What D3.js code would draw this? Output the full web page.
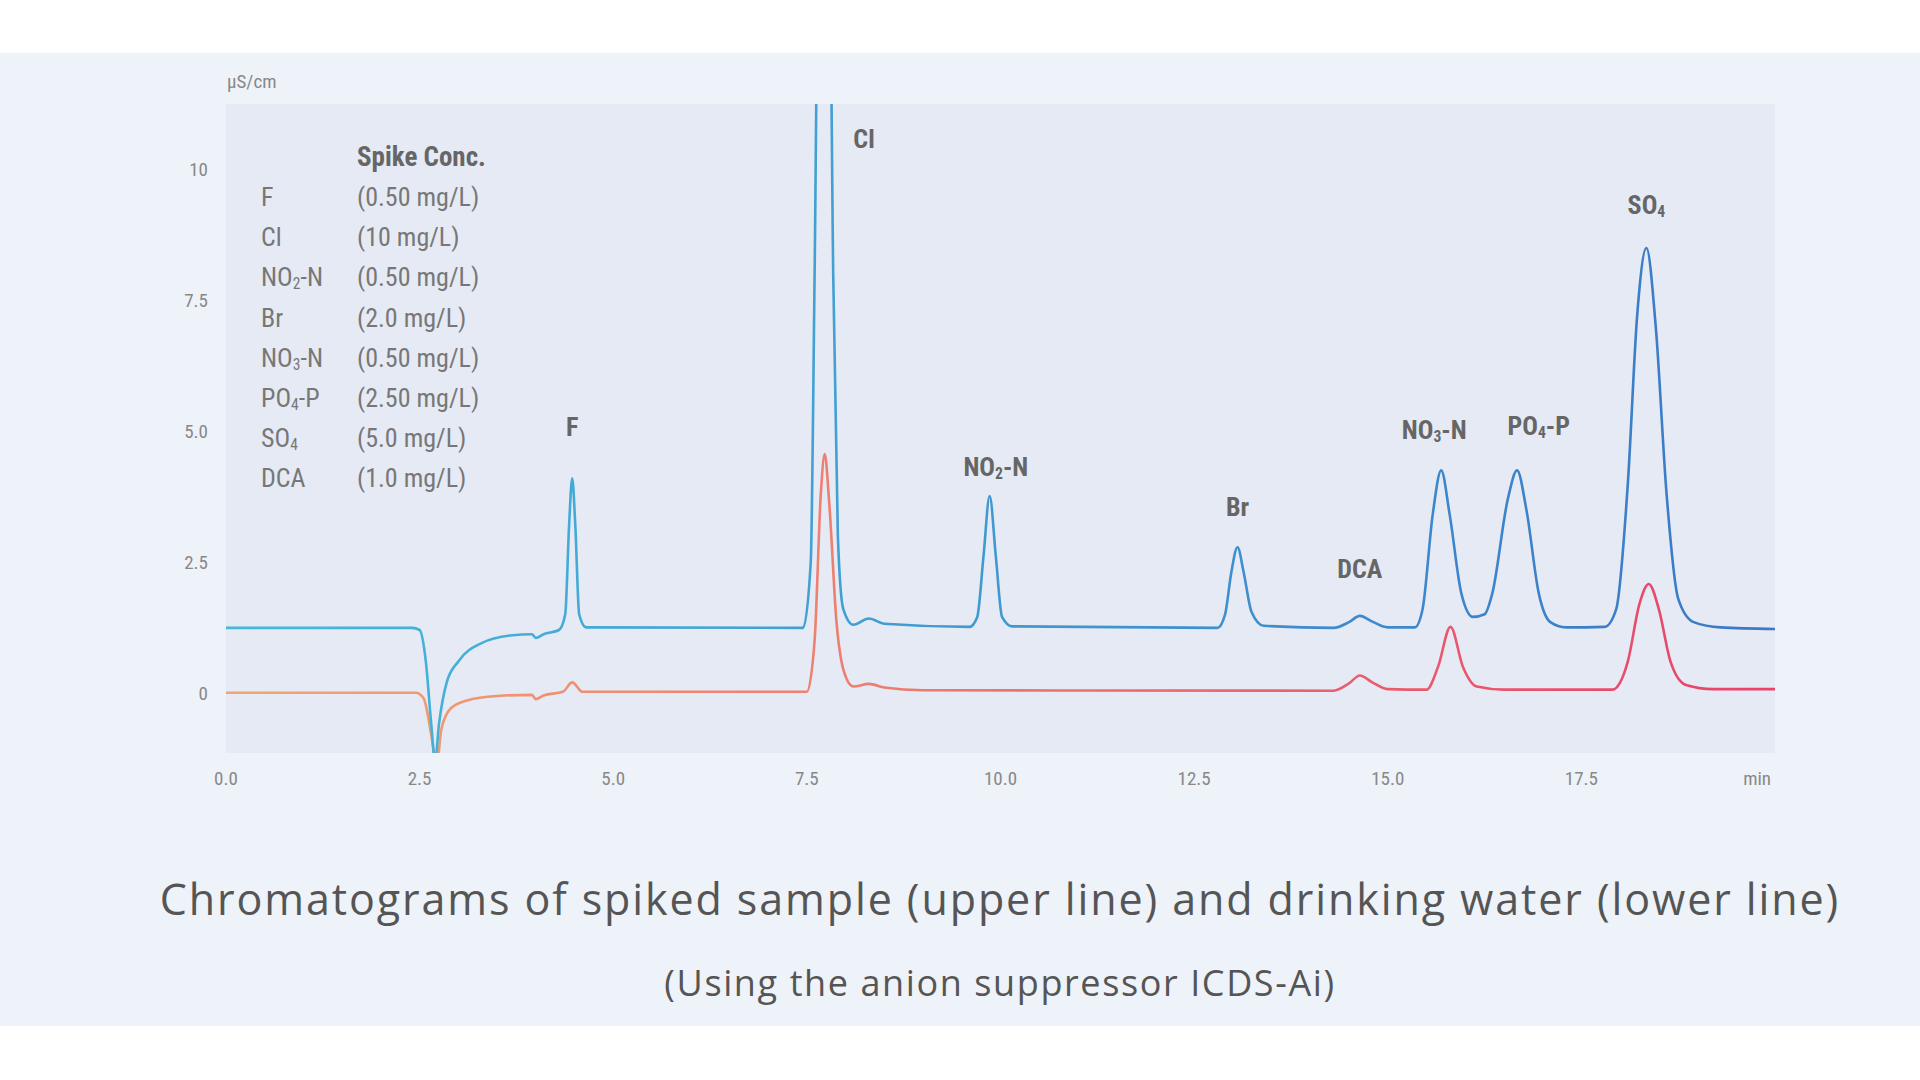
<!DOCTYPE html>
<html>
<head>
<meta charset="utf-8">
<script src="https://cdn.jsdelivr.net/npm/d3@7"></script>
<style>
  body { margin: 0; background: #fff; }
  svg { display: block; }
</style>
</head>
<body>
<svg id="chart" width="1920" height="1080"></svg>
<script>
// retention time (min), conductivity (µS/cm)
const spiked = [
  [0, 1.24], [2.4, 1.24], [2.5, 1.2], [2.58, 0.6], [2.65, -0.6], [2.7, -1.3], [2.75, -0.6],
  [2.85, 0.2], [3.0, 0.6], [3.3, 0.95], [3.7, 1.1], [3.95, 1.12], [4.0, 1.05], [4.1, 1.12],
  [4.3, 1.2], [4.38, 1.5], [4.43, 3.2], [4.47, 4.1], [4.51, 3.2], [4.56, 1.5], [4.65, 1.25],
  [7.45, 1.24], [7.55, 2.5], [7.6, 8], [7.64, 13], [7.8, 13], [7.84, 8], [7.9, 3], [7.97, 1.6],
  [8.1, 1.3], [8.3, 1.42], [8.5, 1.32], [9.6, 1.26], [9.7, 1.45], [9.78, 2.6], [9.86, 3.76],
  [9.94, 2.6], [10.02, 1.45], [10.15, 1.27], [12.8, 1.24], [12.9, 1.5], [12.98, 2.3],
  [13.06, 2.78], [13.14, 2.3], [13.24, 1.55], [13.4, 1.28], [14.3, 1.24], [14.5, 1.35],
  [14.64, 1.47], [14.8, 1.36], [15.0, 1.25], [15.35, 1.25], [15.45, 1.6], [15.58, 3.4],
  [15.69, 4.25], [15.8, 3.4], [15.95, 1.9], [16.1, 1.45], [16.25, 1.5], [16.35, 1.9],
  [16.55, 3.7], [16.67, 4.25], [16.79, 3.5], [16.95, 1.9], [17.1, 1.35], [17.3, 1.25],
  [17.8, 1.26], [17.95, 1.6], [18.1, 4], [18.22, 7.2], [18.34, 8.5], [18.46, 7.0], [18.6, 3.8],
  [18.75, 1.8], [18.95, 1.35], [19.3, 1.25], [20, 1.22]
]
const drinking = [
  [0, 0], [2.45, 0], [2.55, -0.1], [2.65, -0.8], [2.72, -1.4], [2.78, -0.7], [2.9, -0.3],
  [3.1, -0.15], [3.5, -0.06], [3.95, -0.04], [4.0, -0.12], [4.1, -0.05], [4.35, 0.02],
  [4.47, 0.2], [4.6, 0.02], [7.5, 0.02], [7.6, 1.0], [7.68, 3.8], [7.73, 4.56], [7.79, 3.6],
  [7.88, 1.4], [7.98, 0.4], [8.1, 0.12], [8.3, 0.17], [8.5, 0.1], [9, 0.05], [14.3, 0.04],
  [14.5, 0.18], [14.64, 0.33], [14.8, 0.2], [15.0, 0.07], [15.5, 0.06], [15.65, 0.5],
  [15.81, 1.26], [15.97, 0.5], [16.15, 0.12], [16.5, 0.06], [17.9, 0.06], [18.1, 0.6],
  [18.25, 1.7], [18.37, 2.08], [18.5, 1.6], [18.65, 0.6], [18.85, 0.15], [19.2, 0.07], [20, 0.07]
]

// peak labels: [name, subscript, rest, x, y, anchor]
const peakLabels = [
  ['F', '', '', 4.47, 4.9, 'middle'],
  ['Cl', '', '', 8.1, 10.4, 'start'],
  ['NO', '2', '-N', 9.94, 4.15, 'middle'],
  ['Br', '', '', 13.06, 3.38, 'middle'],
  ['DCA', '', '', 14.64, 2.2, 'middle'],
  ['NO', '3', '-N', 15.6, 4.85, 'middle'],
  ['PO', '4', '-P', 16.95, 4.92, 'middle'],
  ['SO', '4', '', 18.34, 9.15, 'middle']
]

// spike concentration table
const spikeNames = [['F', ''], ['Cl', ''], ['NO', '2', '-N'], ['Br', ''], ['NO', '3', '-N'], ['PO', '4', '-P'], ['SO', '4'], ['DCA', '']]
const spikeConc = ['(0.50 mg/L)', '(10 mg/L)', '(0.50 mg/L)', '(2.0 mg/L)', '(0.50 mg/L)', '(2.50 mg/L)', '(5.0 mg/L)', '(1.0 mg/L)']

const xTicks = [0, 2.5, 5, 7.5, 10, 12.5, 15, 17.5]
const yTicks = [0, 2.5, 5, 7.5, 10]

const svg = d3.select('#chart')
const font = '"Liberation Sans Narrow", "Roboto Condensed", "Liberation Sans", sans-serif'
const m = {left: 226, right: 1775, top: 104, bottom: 753}

const x = d3.scaleLinear().domain([0, 20]).range([m.left, m.right])
const y = d3.scaleLinear().domain([-1.15, 11.25]).range([m.bottom, m.top])

// backgrounds
svg.append('rect').attr('x', 0).attr('y', 53).attr('width', 1920).attr('height', 973).attr('fill', '#eef2f9')
svg.append('rect').attr('x', m.left).attr('y', m.top)
    .attr('width', m.right - m.left).attr('height', m.bottom - m.top).attr('fill', '#e5eaf5')

const defs = svg.append('defs')
defs.append('clipPath').attr('id', 'clip').append('rect')
    .attr('x', m.left).attr('y', m.top).attr('width', m.right - m.left).attr('height', m.bottom - m.top)
const grad = (id, c1, c2) => {
  const g = defs.append('linearGradient').attr('id', id)
      .attr('gradientUnits', 'userSpaceOnUse')
      .attr('x1', m.left).attr('x2', m.right).attr('y1', 0).attr('y2', 0)
  g.append('stop').attr('offset', '0%').attr('stop-color', c1)
  g.append('stop').attr('offset', '100%').attr('stop-color', c2)
}
grad('gUp', '#46b9da', '#3b78c6')
grad('gLow', '#f2a672', '#e6436b')

const line = d3.line().x(d => x(d[0])).y(d => y(d[1])).curve(d3.curveMonotoneX)
const traces = svg.append('g').attr('clip-path', 'url(#clip)')
traces.append('path').datum(drinking).attr('d', line)
    .attr('fill', 'none').attr('stroke', 'url(#gLow)').attr('stroke-width', 2.6)
traces.append('path').datum(spiked).attr('d', line)
    .attr('fill', 'none').attr('stroke', 'url(#gUp)').attr('stroke-width', 2.6)

// axes (labels only)
svg.append('g').selectAll('text').data(xTicks).join('text')
    .attr('x', d => x(d)).attr('y', 785).attr('text-anchor', 'middle')
    .attr('font-family', font).attr('font-size', 19).attr('fill', '#888')
    .text(d => d.toFixed(1))
svg.append('text').attr('x', x(20) - 4).attr('y', 785).attr('text-anchor', 'end')
    .attr('font-family', font).attr('font-size', 19).attr('fill', '#888').text('min')
svg.append('g').selectAll('text').data(yTicks).join('text')
    .attr('x', 208).attr('y', d => y(d) + 7).attr('text-anchor', 'end')
    .attr('font-family', font).attr('font-size', 19).attr('fill', '#888')
    .text(d => d === 0 ? '0' : d === 10 ? '10' : d.toFixed(1))
svg.append('text').attr('x', 227).attr('y', 88)
    .attr('font-family', font).attr('font-size', 19).attr('fill', '#888').text('µS/cm')

const addChem = (sel, parts) => {
  sel.append('tspan').text(parts[0])
  if (parts[1]) sel.append('tspan').attr('font-size', '60%').attr('dy', 3).text(parts[1])
  if (parts[2]) sel.append('tspan').attr('dy', parts[1] ? -3 : 0).text(parts[2])
}

// peak labels
peakLabels.forEach(p => {
  const t = svg.append('text').attr('x', x(p[3])).attr('y', y(p[4]))
      .attr('text-anchor', p[5]).attr('font-family', font).attr('font-weight', 'bold')
      .attr('font-size', 26).attr('fill', '#666')
  addChem(t, p)
})

// spike table
svg.append('text').attr('x', 357).attr('y', 166).attr('font-family', font)
    .attr('font-weight', 'bold').attr('font-size', 27).attr('fill', '#666').text('Spike Conc.')
spikeNames.forEach((n, i) => {
  const yy = 206 + i * 40.2
  const t = svg.append('text').attr('x', 261).attr('y', yy).attr('font-family', font)
      .attr('font-size', 26).attr('fill', '#777')
  addChem(t, n)
  svg.append('text').attr('x', 357).attr('y', yy).attr('font-family', font)
      .attr('font-size', 26).attr('fill', '#777').text(spikeConc[i])
})

// captions
svg.append('text').attr('x', 1000).attr('y', 915).attr('text-anchor', 'middle')
    .attr('font-family', '"Open Sans", sans-serif').attr('font-size', 43)
    .attr('letter-spacing', 1.9).attr('fill', '#555')
    .text('Chromatograms of spiked sample (upper line) and drinking water (lower line)')
svg.append('text').attr('x', 1000).attr('y', 996).attr('text-anchor', 'middle')
    .attr('font-family', '"Open Sans", sans-serif').attr('font-size', 36)
    .attr('letter-spacing', 1.6).attr('fill', '#555')
    .text('(Using the anion suppressor ICDS-Ai)')
</script>
</body>
</html>
